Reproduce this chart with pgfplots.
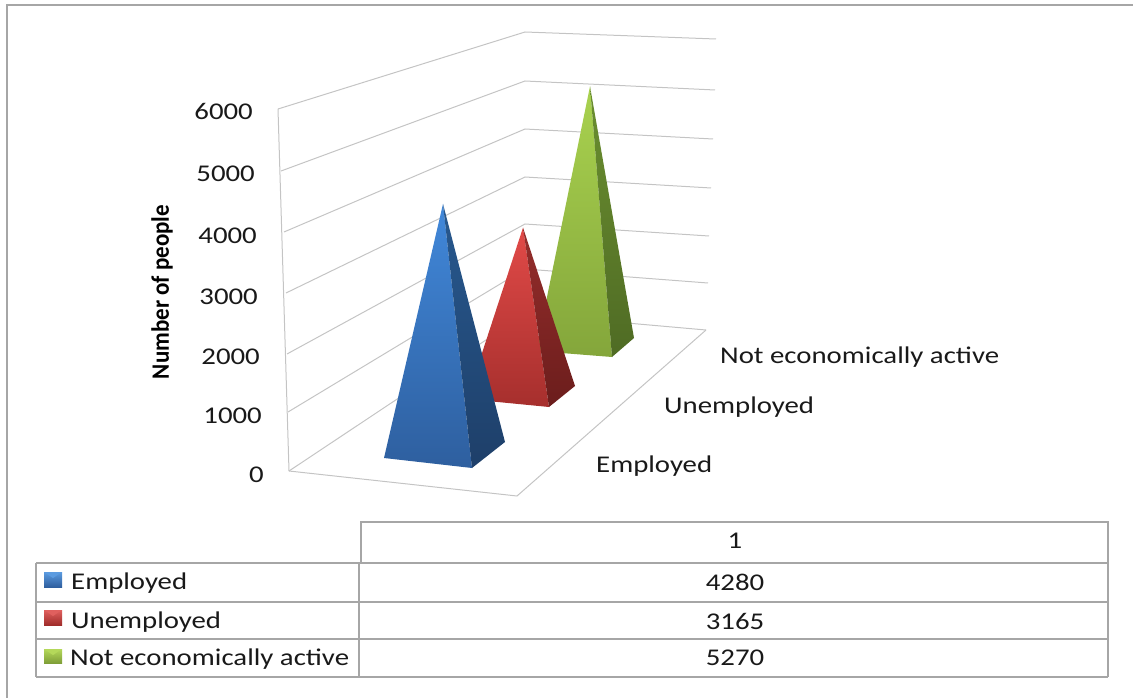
\documentclass[border=0pt]{standalone}
\usepackage{pgfplots}
\pgfplotsset{compat=1.18}
\usepackage{fontspec}
\setmainfont{Carlito}
\newfontfamily\chartfont[FakeStretch=1.2]{Carlito}
\newfontfamily\titlefont[FakeStretch=0.92]{Carlito Bold}

\definecolor{rule}{HTML}{A6A6A6}
\definecolor{gridc}{HTML}{C4C4C4}
\definecolor{grnT}{HTML}{A9D24F}
\definecolor{grnB}{HTML}{84A63B}
\definecolor{grnST}{HTML}{6B8F30}
\definecolor{grnSB}{HTML}{4F6B24}
\definecolor{redT}{HTML}{E24A48}
\definecolor{redB}{HTML}{A62F2D}
\definecolor{redST}{HTML}{962E2C}
\definecolor{redSB}{HTML}{6B1D1C}
\definecolor{bluT}{HTML}{4188DA}
\definecolor{bluB}{HTML}{2E5F9F}
\definecolor{bluST}{HTML}{28598F}
\definecolor{bluSB}{HTML}{1E3F69}
\definecolor{keyBT}{HTML}{5B9BE0}
\definecolor{keyBB}{HTML}{2F5F9F}
\definecolor{keyRT}{HTML}{E0605E}
\definecolor{keyRB}{HTML}{A02D2B}
\definecolor{keyGT}{HTML}{B4D85A}
\definecolor{keyGB}{HTML}{7F9F38}

% One face of a pyramid: columns are x, y of the base level, people, and the
% vertical scale (pixels per person) of the pyramid's depth plane.
\newcommand{\pyramidface}[3]{%
  \addplot[draw=none, top color=#1, bottom color=#2, forget plot]
    table[row sep=\\, x=x, y expr=\thisrow{y0}-\thisrow{people}*\thisrow{k}] {#3};%
}
\newcommand{\gridline}[1]{\addplot[gridc, line width=1pt, no marks, forget plot] coordinates {#1};}
\newcommand{\ruleline}[2][1.4pt]{\addplot[rule, line width=#1, no marks, forget plot] coordinates {#2};}
% Legend key: small shaded square with a lighter notch at its top edge
\newcommand{\legendkey}[5]{%
  \addplot[draw=none, top color=#1, bottom color=#2, forget plot] coordinates {(44,#3) (62,#3) (62,#4) (44,#4) (44,#3)};%
  \addplot[draw=none, fill=#1, forget plot] coordinates {(44,#3) (62,#3) (53,#5) (44,#3)};%
}
\newcommand{\txt}[3]{\node[anchor=#1, inner sep=0pt, font=\fontsize{24}{24}\selectfont\chartfont, text=black!90] at (axis cs:#2) {#3};}

\begin{document}
\begin{tikzpicture}
\begin{axis}[
  width=1133pt, height=698pt, scale only axis,
  xmin=0, xmax=1133, ymin=0, ymax=698, y dir=reverse,
  axis lines=none, clip=false,
]
% outer chart frame
\ruleline[2pt]{(7,698) (7,5) (1133,5)}

% walls and floor
\gridline{(278,109) (289,471)}
\gridline{(278,109) (525,32) (716,39)}
\gridline{(281,171) (525,81) (715,90)}
\gridline{(284,232) (525,129) (713,139)}
\gridline{(286,293) (525,177) (711,188)}
\gridline{(287,354) (525,224) (709,236)}
\gridline{(288,412) (525,269) (708,283)}
\gridline{(289,471) (525,314) (706,330)}
\gridline{(289,471) (517,496) (706,330)}

% Not economically active
\pyramidface{grnT}{grnB}{
x y0 people k\\
536 351 0 0\\
590 344.5 5270 0.049\\
612 357 0 0\\
536 351 0 0\\
}
\pyramidface{grnST}{grnSB}{
x y0 people k\\
612 357 0 0\\
590 344.5 5270 0.049\\
634 338 0 0\\
612 357 0 0\\
}
% Unemployed
\pyramidface{redT}{redB}{
x y0 people k\\
467 399 0 0\\
523 392.5 3165 0.0521\\
549 407 0 0\\
467 399 0 0\\
}
\pyramidface{redST}{redSB}{
x y0 people k\\
549 407 0 0\\
523 392.5 3165 0.0521\\
575 386 0 0\\
549 407 0 0\\
}
% Employed
\pyramidface{bluT}{bluB}{
x y0 people k\\
384 458 0 0\\
443 450 4280 0.0575\\
472 468 0 0\\
384 458 0 0\\
}
\pyramidface{bluST}{bluSB}{
x y0 people k\\
472 468 0 0\\
443 450 4280 0.0575\\
505 442 0 0\\
472 468 0 0\\
}

% value axis labels follow the slanted wall
\txt{east}{253,111}{6000}
\txt{east}{255,174}{5000}
\txt{east}{257,236}{4000}
\txt{east}{258,297}{3000}
\txt{east}{260,357}{2000}
\txt{east}{262,416}{1000}
\txt{east}{264,475}{0}
\node[rotate=90, anchor=center, inner sep=0pt, font=\fontsize{25}{25}\selectfont\titlefont] at (axis cs:162,292) {Number of people};

% depth axis labels
\txt{west}{720,357}{Not economically active}
\txt{west}{664,407}{Unemployed}
\txt{west}{596,466}{Employed}

% data table
\ruleline{(361,563) (361,522) (1108,522) (1108,563)}
\ruleline{(36,563) (1108,563)}
\ruleline{(36,602) (1108,602)}
\ruleline{(36,639) (1108,639)}
\ruleline{(36,677) (1108,677)}
\ruleline{(36,563) (36,677)}
\ruleline{(359,563) (359,677)}
\ruleline[2.4pt]{(1108,563) (1108,677)}

\legendkey{keyBT}{keyBB}{572}{587}{578}
\legendkey{keyRT}{keyRB}{610}{625}{616}
\legendkey{keyGT}{keyGB}{649}{663}{655}

\txt{west}{71,583}{Employed}
\txt{west}{71,622}{Unemployed}
\txt{west}{70,659}{Not economically active}
\txt{center}{735,541}{1}
\txt{center}{735,582}{4280}
\txt{center}{735,621}{3165}
\txt{center}{735,658}{5270}
\end{axis}
% the page is exactly the plotting rectangle
\pgfresetboundingbox
\path[use as bounding box] (current axis.south west) rectangle (current axis.north east);
\end{tikzpicture}
\end{document}
